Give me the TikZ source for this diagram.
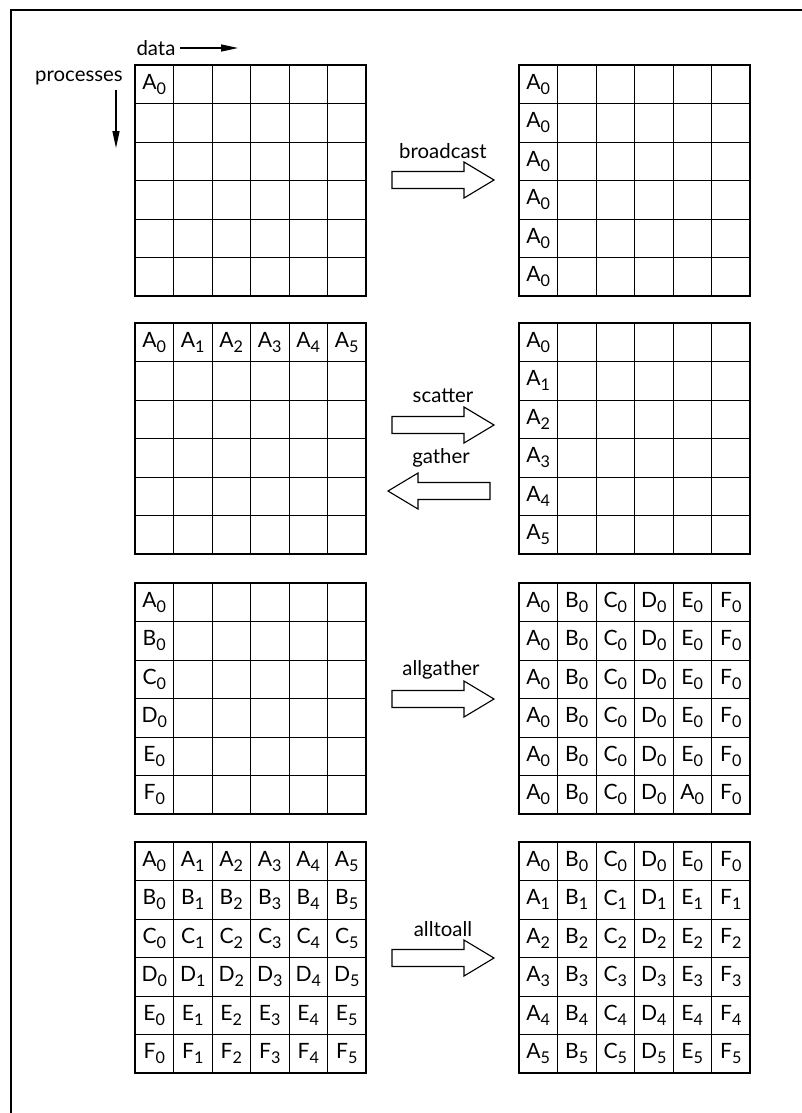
\documentclass[tikz,border=0pt]{standalone}
\usepackage{fontspec}
\setmainfont{Lato}
\usetikzlibrary{arrows.meta, calc}

\tikzset{
  cell/.style={rectangle, draw, line width=0.6pt, minimum size=0.9625cm,
    inner sep=0pt, outer sep=0pt},
  entry/.style={inner sep=0pt, font=\fontsize{15}{17}\selectfont},
  outline/.style={line width=1.4pt},
  ptr/.style={-{Triangle[length=12pt,width=5pt]}, line width=0.8pt},
  oplabel/.style={inner sep=0pt},
  fatarrow/.pic={
    \draw[line width=0.8pt, fill=white] (0,-8.5) -- (72,-8.5) -- (72,-18)
      -- (102,0) -- (72,18) -- (72,8.5) -- (0,8.5) -- cycle;
  }
}

% letter with lowered index
\newcommand\ix[2]{#1\raisebox{-0.45ex}{\fontsize{11.5}{12}\selectfont #2}}

% empty 6x6 grid: name, left, top
\newcommand\mpigrid[3]{%
  \foreach \r in {1,...,6}
    \foreach \c in {1,...,6}
      \node[cell] (#1-\r-\c) at ({#2+38.5*\c-19.25},{#3+38.5*\r-19.25}) {};
  \draw[outline] (#1-1-1.north west) rectangle (#1-6-6.south east);
}

\begin{document}
\begin{tikzpicture}[x=0.025cm, y=-0.025cm, font=\fontsize{14.5}{17}\selectfont]
  \useasboundingbox (0,0) rectangle (802,1113);

  % page frame
  \draw[line width=0.8pt] (802,10) -- (11,10) -- (11,1113);

  % axes
  \node (data) at (156,48) {data};
  \coordinate (dataend) at (238,48);
  \draw[ptr] (data.east) -- (dataend);
  \node (procs) at (79,78) {processes};
  \coordinate (procend) at (116,148);
  \draw[ptr] (procs.south -| procend) -- (procend);

  % broadcast
  \mpigrid{bl}{135}{65}
  \mpigrid{br}{519}{65}
  \node[entry] (bl-1-1-t) at (bl-1-1) {\ix{A}{0}};
  \foreach \r in {1,...,6}
    \node[entry] (br-\r-1-t) at (br-\r-1) {\ix{A}{0}};
  \pic at (392,180) {fatarrow};
  \node[oplabel] (bcast) at (443,151) {broadcast};

  % scatter / gather
  \mpigrid{sl}{135}{323}
  \mpigrid{sr}{519}{323}
  \foreach \c in {1,...,6} {
    \pgfmathtruncatemacro\k{\c-1}
    \node[entry] (sl-1-\c-t) at (sl-1-\c) {\ix{A}{\k}};
    \node[entry] (sr-\c-1-t) at (sr-\c-1) {\ix{A}{\k}};
  }
  \pic at (392,425) {fatarrow};
  \node[oplabel] (scat) at (443,396) {scatter};
  \pic[rotate=180] at (490,491) {fatarrow};
  \node[oplabel] (gath) at (441,458) {gather};

  % allgather
  \mpigrid{al}{135}{583}
  \mpigrid{ar}{519}{583}
  \foreach \r/\L in {1/A,2/B,3/C,4/D,5/E,6/F}
    \node[entry] (al-\r-1-t) at (al-\r-1) {\ix{\L}{0}};
  \foreach \c/\L in {1/A,2/B,3/C,4/D,5/E,6/F}
    \foreach \r in {1,...,5}
      \node[entry] (ar-\r-\c-t) at (ar-\r-\c) {\ix{\L}{0}};
  \foreach \c/\L in {1/A,2/B,3/C,4/D,5/A,6/F}
    \node[entry] (ar-6-\c-t) at (ar-6-\c) {\ix{\L}{0}};
  \pic at (392,699) {fatarrow};
  \node[oplabel] (allg) at (441,670) {allgather};

  % alltoall
  \mpigrid{tl}{135}{842}
  \mpigrid{tr}{519}{842}
  \foreach \r/\L in {1/A,2/B,3/C,4/D,5/E,6/F}
    \foreach \c in {1,...,6} {
      \pgfmathtruncatemacro\k{\c-1}
      \node[entry] (tl-\r-\c-t) at (tl-\r-\c) {\ix{\L}{\k}};
      \node[entry] (tr-\c-\r-t) at (tr-\c-\r) {\ix{\L}{\k}};
    }
  \pic at (392,958) {fatarrow};
  \node[oplabel] (a2a) at (443,929) {alltoall};
\end{tikzpicture}
\end{document}
